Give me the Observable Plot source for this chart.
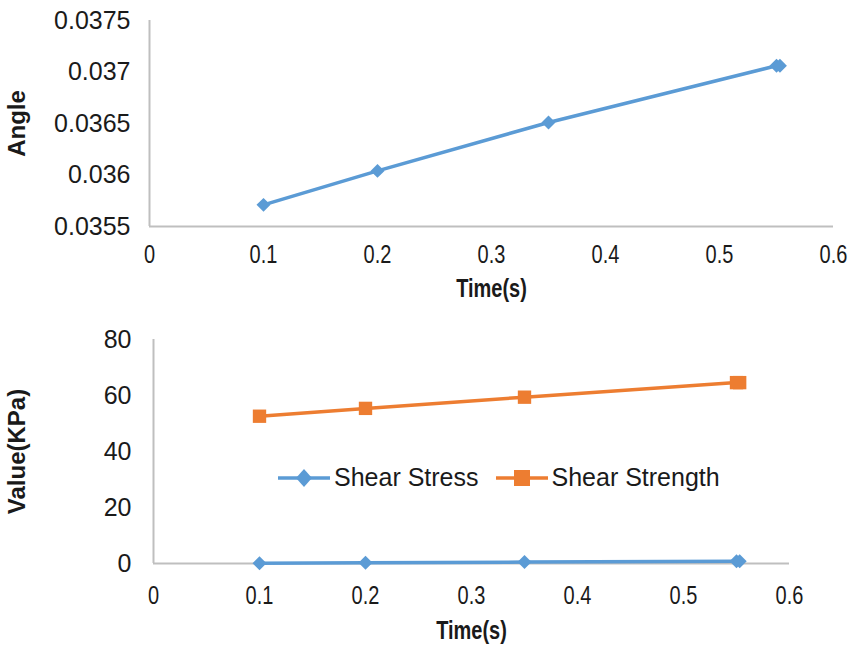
<!DOCTYPE html>
<html>
<head>
<meta charset="utf-8">
<script src="https://cdn.jsdelivr.net/npm/d3@7"></script>
<script src="https://cdn.jsdelivr.net/npm/@observablehq/plot@0.6"></script>
<style>
  html, body { margin: 0; padding: 0; background: #fff; }
  #wrap { position: relative; width: 858px; height: 649px; font-family: "Liberation Sans", Arial, sans-serif; }
  #wrap svg { display: block; }
  g[aria-label="x-axis tick label"] text { font-size: 25px; }
  g[aria-label="y-axis tick label"] text { font-size: 25px; }
  g[aria-label="x-axis label"] text { font-size: 25px; font-weight: bold; }
  g[aria-label="y-axis label"] text { font-size: 24px; font-weight: bold; }
  .legend { position: absolute; display: flex; align-items: center; font-size: 25px; color: #1a1a1a; }
  .legend .item { display: flex; align-items: center; margin-right: 17px; }
  .legend .item span { margin-left: 4px; }
</style>
</head>
<body>
<div id="wrap"></div>
<script>
// ---- Data ----
const time = [0.1, 0.2, 0.35, 0.55, 0.553];
const angle = [0.03571, 0.03604, 0.03651, 0.03706, 0.03706];
const shearStress = [0.1, 0.3, 0.5, 0.8, 0.8];
const shearStrength = [52.6, 55.4, 59.4, 64.6, 64.6];
const seriesNames = ["Shear Stress", "Shear Strength"];
const seriesColors = ["#5b9bd5", "#ed7d31"];
const xTicks = [0, 0.1, 0.2, 0.3, 0.4, 0.5, 0.6];
const angleTicks = [0.0355, 0.036, 0.0365, 0.037, 0.0375];
const valueTicks = [0, 20, 40, 60, 80];

const axisGray = "#bfbfbf";
const wrap = document.getElementById("wrap");

const angleData = time.map((t, i) => ({t, v: angle[i]}));
const stressData = time.map((t, i) => ({t, v: shearStress[i], s: seriesNames[0]}));
const strengthData = time.map((t, i) => ({t, v: shearStrength[i], s: seriesNames[1]}));

// Narrow the x-axis texts horizontally (the reference uses a condensed look)
function condenseX(svg) {
  svg.querySelectorAll('g[aria-label="x-axis tick label"] text, g[aria-label="x-axis label"] text').forEach(t => {
    const tr = t.getAttribute("transform") || "";
    t.setAttribute("transform", tr + " scale(0.8,1)");
  });
  return svg;
}

// ---- Top chart ----
const topChart = Plot.plot({
  width: 858, height: 310,
  marginLeft: 149, marginRight: 25, marginTop: 20, marginBottom: 84,
  style: {fontFamily: '"Liberation Sans", Arial, sans-serif', color: "#1a1a1a", overflow: "visible"},
  x: {domain: [0, 0.6]},
  y: {domain: [0.0355, 0.0375]},
  marks: [
    Plot.ruleX([0], {stroke: axisGray, strokeWidth: 2}),
    Plot.ruleY([0.0355], {stroke: axisGray, strokeWidth: 2}),
    Plot.axisX({ticks: xTicks, tickSize: 0, tickPadding: 19, tickFormat: d => String(d),
      label: "Time(s)", labelAnchor: "center", labelArrow: "none", labelOffset: 70}),
    Plot.axisY({ticks: angleTicks, tickSize: 0, tickPadding: 19, tickFormat: d => String(d),
      label: "Angle", labelAnchor: "center", labelArrow: "none", labelOffset: 142}),
    Plot.line(angleData, {x: "t", y: "v", stroke: seriesColors[0], strokeWidth: 3.5}),
    Plot.dot(angleData, {x: "t", y: "v", symbol: "diamond2", r: 6.3, fill: seriesColors[0], stroke: "none"})
  ]
});
wrap.appendChild(condenseX(topChart));

// ---- Bottom chart ----
const bottomChart = Plot.plot({
  width: 858, height: 339,
  marginLeft: 153, marginRight: 69, marginTop: 29, marginBottom: 86,
  style: {fontFamily: '"Liberation Sans", Arial, sans-serif', color: "#1a1a1a", overflow: "visible"},
  x: {domain: [0, 0.6]},
  y: {domain: [0, 80]},
  marks: [
    Plot.ruleX([0], {stroke: axisGray, strokeWidth: 2}),
    Plot.ruleY([0], {stroke: axisGray, strokeWidth: 2}),
    Plot.axisX({ticks: xTicks, tickSize: 0, tickPadding: 23, tickFormat: d => String(d),
      label: "Time(s)", labelAnchor: "center", labelArrow: "none", labelOffset: 75}),
    Plot.axisY({ticks: valueTicks, tickSize: 0, tickPadding: 22, tickFormat: d => String(d),
      label: "Value(KPa)", labelAnchor: "center", labelArrow: "none", labelOffset: 146}),
    Plot.line(strengthData, {x: "t", y: "v", stroke: seriesColors[1], strokeWidth: 3.5}),
    Plot.dot(strengthData, {x: "t", y: "v", symbol: "square2", r: 8.5, fill: seriesColors[1], stroke: "none"}),
    Plot.line(stressData, {x: "t", y: "v", stroke: seriesColors[0], strokeWidth: 3.5}),
    Plot.dot(stressData, {x: "t", y: "v", symbol: "diamond2", r: 6.3, fill: seriesColors[0], stroke: "none"})
  ]
});
wrap.appendChild(condenseX(bottomChart));

// ---- Legend (inside bottom plot area) ----
const legend = document.createElement("div");
legend.className = "legend";
legend.style.left = "278px";
legend.style.top = "463px";
seriesNames.forEach((name, i) => {
  const item = document.createElement("div");
  item.className = "item";
  const marker = i === 0
    ? `<path d="M26,4 L34,13 L26,22 L18,13 Z" fill="${seriesColors[i]}"/>`
    : `<rect x="18" y="5" width="16" height="16" fill="${seriesColors[i]}"/>`;
  item.innerHTML = `<svg width="52" height="26"><line x1="0" y1="13" x2="52" y2="13" stroke="${seriesColors[i]}" stroke-width="3.5"/>${marker}</svg><span>${name}</span>`;
  legend.appendChild(item);
});
wrap.appendChild(legend);
</script>
</body>
</html>
